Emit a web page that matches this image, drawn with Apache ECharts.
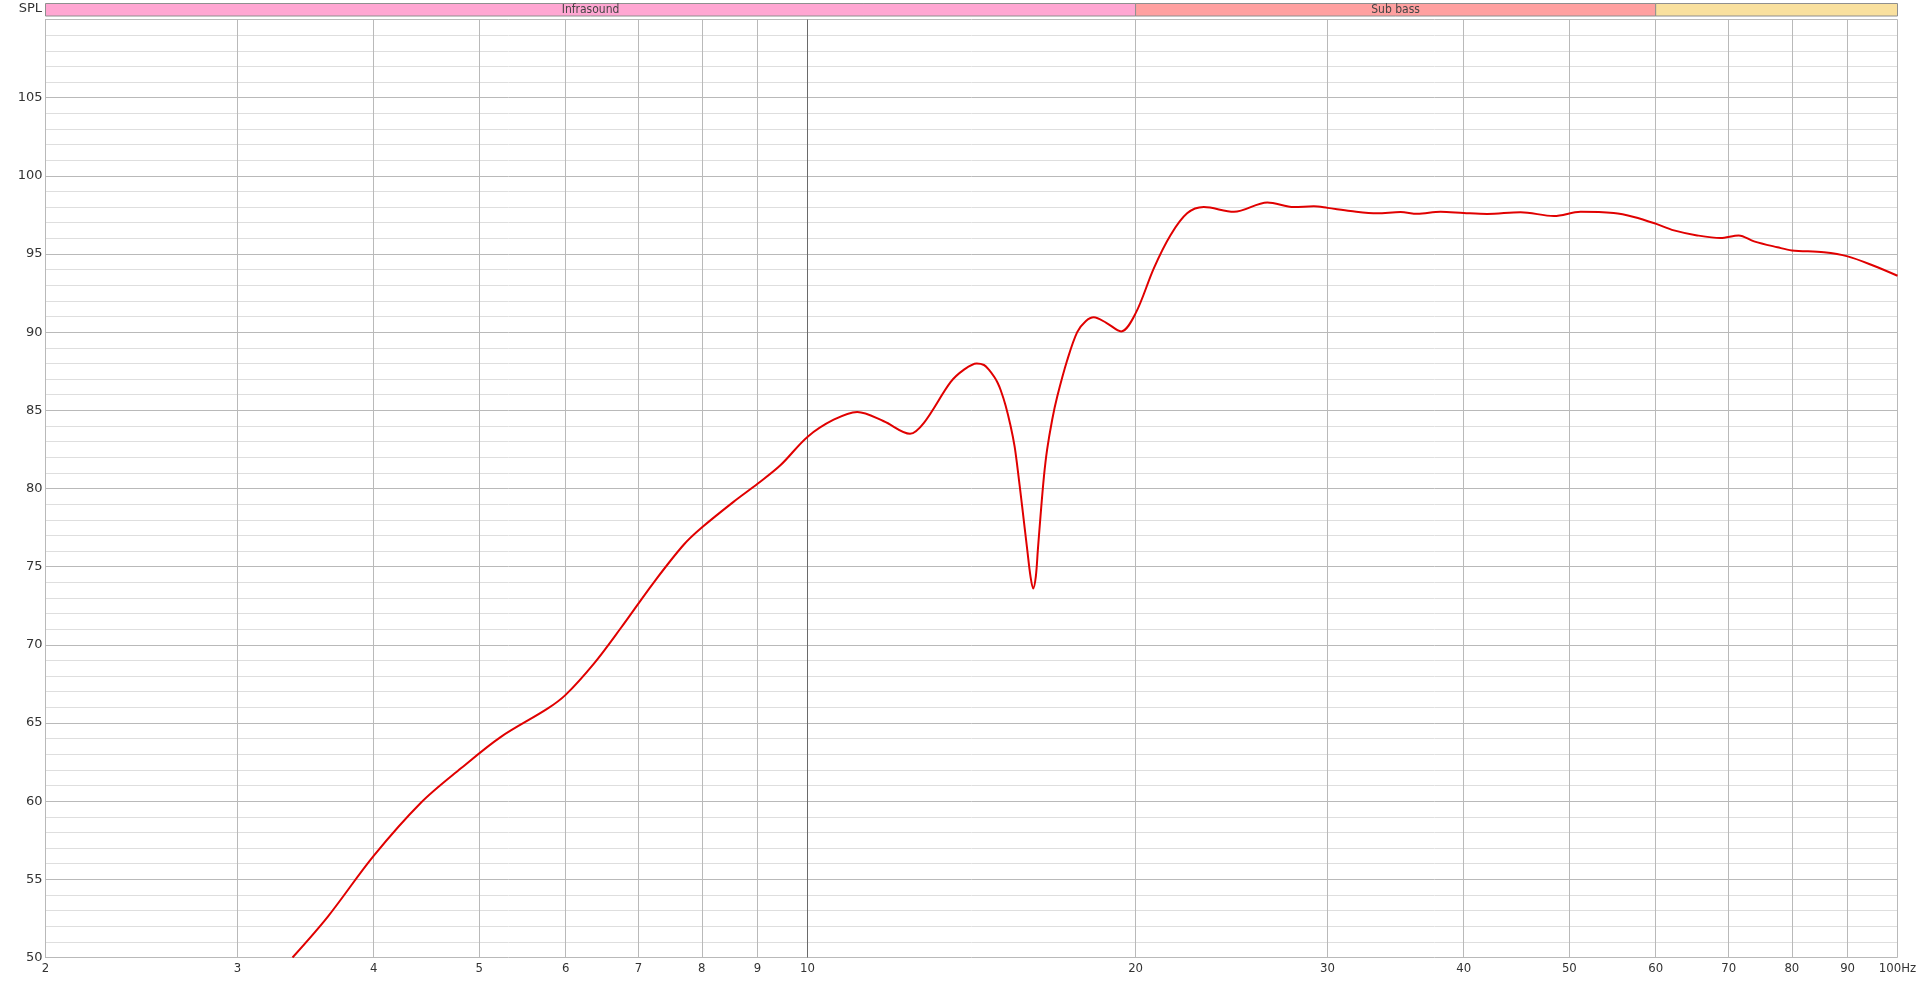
<!DOCTYPE html>
<html>
<head>
<meta charset="utf-8">
<script src="https://cdn.jsdelivr.net/npm/echarts@6/dist/echarts.min.js"></script>
<style>
html,body{margin:0;padding:0;background:#fff;}
#chart{width:1920px;height:983px;}
</style>
</head>
<body>
<div id="chart"></div>
<script>
// ---- data ----
const freqs = [3.37, 3.63, 4.0, 4.42, 4.81, 5.23, 5.77, 6.0, 6.37, 6.74, 7.23, 7.70, 8.0, 8.56, 9.0, 9.45, 10.0, 10.57, 11.11, 11.75, 12.42, 12.79, 13.53, 13.92, 14.3, 14.52, 14.67, 14.83, 14.94, 15.04, 15.2, 15.36, 15.49, 15.58, 15.74, 15.91, 16.02, 16.11, 16.2, 16.27, 16.36, 16.48, 16.59, 16.77, 16.95, 17.31, 17.68, 18.0, 18.31, 18.8, 19.4, 20.0, 20.79, 21.53, 22.3, 23.1, 24.62, 26.42, 27.94, 29.14, 30.0, 31.49, 33.32, 35.0, 36.27, 38.09, 40.0, 42.04, 45.1, 48.4, 51.2, 54.9, 57.3, 60.0, 62.36, 65.5, 68.8, 71.5, 73.86, 77.6, 80.0, 85.6, 90.0, 95.1, 100.0];
const spl = [50.0, 52.6, 56.5, 59.9, 62.1, 64.1, 65.9, 66.8, 68.8, 71.06, 74.0, 76.4, 77.5, 79.16, 80.3, 81.5, 83.3, 84.4, 84.9, 84.3, 83.5, 84.2, 86.8, 87.6, 88.0, 87.9, 87.6, 87.16, 86.78, 86.3, 85.3, 84.0, 82.7, 81.4, 78.84, 76.07, 74.36, 73.6, 74.36, 76.07, 78.2, 80.76, 82.47, 84.4, 85.88, 88.2, 90.0, 90.7, 90.95, 90.6, 90.05, 91.2, 94.1, 96.2, 97.6, 98.0, 97.7, 98.3, 98.0, 98.05, 97.95, 97.75, 97.6, 97.68, 97.57, 97.7, 97.62, 97.56, 97.67, 97.43, 97.7, 97.62, 97.37, 96.94, 96.51, 96.19, 96.02, 96.19, 95.81, 95.43, 95.23, 95.11, 94.85, 94.25, 93.61];
const xTickFreqs = [2, 3, 4, 5, 6, 7, 8, 9, 10, 20, 30, 40, 50, 60, 70, 80, 90, 100];
const xTickLabels = ['2', '3', '4', '5', '6', '7', '8', '9', '10', '20', '30', '40', '50', '60', '70', '80', '90', '100Hz'];
const bandNames = ['Infrasound', 'Sub bass', ''];
const bandStart = [2, 20, 60];
const bandEnd = [20, 60, 100];
const bandColors = ['#ffa6d2', '#ffa0a0', '#f9e09e'];

const condensed = "'DejaVu Sans Condensed', 'Liberation Sans Narrow', sans-serif";
const chart = echarts.init(document.getElementById('chart'), null, {renderer: 'canvas'});

const gridLines = xTickFreqs.map((f, i) => ({
  xAxis: f,
  lineStyle: {color: f === 10 ? '#6a6a6a' : '#b9b9b9', width: 1, type: 'solid'},
  label: {show: true, position: 'start', formatter: xTickLabels[i], distance: 5,
          color: '#333', fontSize: 13, fontFamily: condensed}
}));

const option = {
  animation: false,
  backgroundColor: '#ffffff',
  grid: [
    {left: 45.5, right: 22.5, top: 19.5, bottom: 25.5, show: false},
    {left: 45.5, right: 22.5, top: 3.5, height: 12.5, show: false}
  ],
  xAxis: [
    {type: 'log', logBase: 10, min: 2, max: 100, gridIndex: 0,
     axisLine: {show: false}, axisTick: {show: false}, axisLabel: {show: false}, splitLine: {show: false}},
    {type: 'log', logBase: 10, min: 2, max: 100, gridIndex: 1,
     axisLine: {show: false}, axisTick: {show: false}, axisLabel: {show: false}, splitLine: {show: false}}
  ],
  yAxis: [
    {type: 'value', min: 50, max: 110, interval: 5, gridIndex: 0,
     axisLine: {show: true, lineStyle: {color: '#b0b0b0'}},
     axisTick: {show: false},
     axisLabel: {color: '#333', fontSize: 13, margin: 3, fontFamily: "'DejaVu Sans', sans-serif",
                 formatter: v => (v >= 110 ? '' : String(v))},
     splitLine: {show: true, lineStyle: {color: '#b9b9b9', width: 1}},
     minorTick: {show: false, splitNumber: 5},
     minorSplitLine: {show: true, lineStyle: {color: '#dedede', width: 1}}},
    {type: 'value', min: 0, max: 1, gridIndex: 1, show: false}
  ],
  graphic: [
    {type: 'text', right: 1920 - 42, top: 2,
     style: {text: 'SPL', fill: '#333', fontSize: 13, fontFamily: "'DejaVu Sans', sans-serif", textAlign: 'right'}}
  ],
  series: [
    {
      type: 'line', xAxisIndex: 0, yAxisIndex: 0,
      data: freqs.map((f, i) => [f, spl[i]]),
      smooth: 0.33, showSymbol: false, clip: true,
      lineStyle: {color: '#e00000', width: 2},
      z: 5,
      markLine: {silent: true, symbol: 'none', animation: false, data: gridLines, z: 1}
    },
    {
      type: 'line', xAxisIndex: 1, yAxisIndex: 1, data: [], silent: true,
      markArea: {
        silent: true,
        data: bandNames.map((n, i) => [
          {xAxis: bandStart[i], yAxis: 0, name: n,
           itemStyle: {color: bandColors[i], borderColor: '#8f8f8f', borderWidth: 1},
           label: {show: true, position: 'inside', color: '#444', fontSize: 12, fontFamily: condensed}},
          {xAxis: bandEnd[i], yAxis: 1}
        ])
      }
    }
  ]
};
chart.setOption(option);
</script>
</body>
</html>
